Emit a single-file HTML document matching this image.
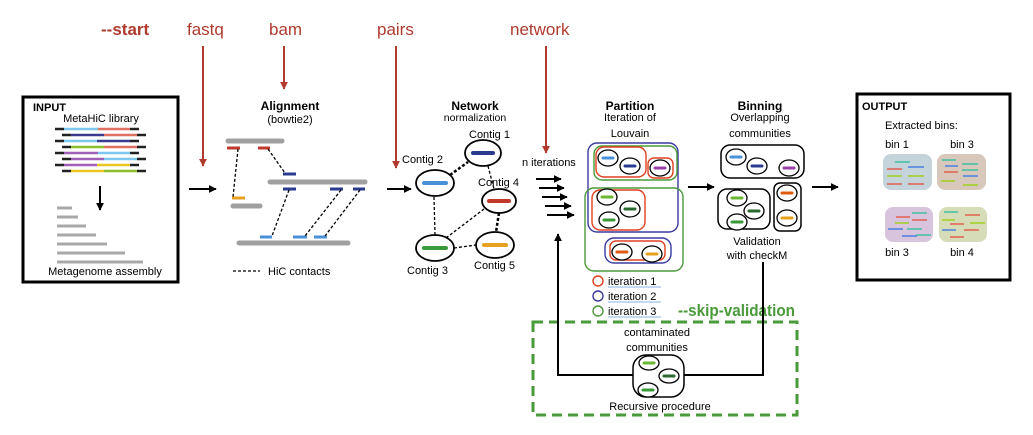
<!DOCTYPE html>
<html><head><meta charset="utf-8"><style>
html,body{margin:0;padding:0;background:#fff;}
svg{display:block;font-family:"Liberation Sans",sans-serif;}
</style></head><body>
<svg width="1033" height="435" viewBox="0 0 1033 435" xmlns="http://www.w3.org/2000/svg">
<defs>
<marker id="ab" viewBox="0 0 10 10" refX="9" refY="5" markerWidth="4" markerHeight="4" orient="auto"><path d="M0,0 L10,5 L0,10 z" fill="#000"/></marker>
<marker id="ar" viewBox="0 0 10 10" refX="9" refY="5" markerWidth="4" markerHeight="4" orient="auto"><path d="M0,0 L10,5 L0,10 z" fill="#b03a2e"/></marker>
</defs>

<g fill="#b03a2e" font-size="17">
<text x="101" y="35" font-weight="bold">--start</text>
<text x="187" y="35">fastq</text>
<text x="269" y="35">bam</text>
<text x="377" y="35">pairs</text>
<text x="510" y="35">network</text>
</g>
<g stroke="#b03a2e" stroke-width="2" fill="none">
<line x1="203" y1="46" x2="203" y2="166" marker-end="url(#ar)"/>
<line x1="284" y1="46" x2="284" y2="89" marker-end="url(#ar)"/>
<line x1="396" y1="46" x2="396" y2="168" marker-end="url(#ar)"/>
<line x1="546" y1="46" x2="546" y2="153" marker-end="url(#ar)"/>
</g>

<rect x="23" y="97" width="155" height="185" fill="none" stroke="#000" stroke-width="3"/>
<text x="33" y="111" font-size="11" font-weight="bold">INPUT</text>
<text x="101" y="122" font-size="11" text-anchor="middle">MetaHiC library</text>
<g stroke-width="2.5">
<line x1="55" y1="129" x2="64" y2="129" stroke="#222"/><line x1="64" y1="129" x2="98" y2="129" stroke="#7ec8ee"/><line x1="98" y1="129" x2="130" y2="129" stroke="#e07060"/><line x1="130" y1="129" x2="139" y2="129" stroke="#222"/>
<line x1="62" y1="135" x2="71" y2="135" stroke="#222"/><line x1="71" y1="135" x2="104" y2="135" stroke="#3a3a90"/><line x1="104" y1="135" x2="137" y2="135" stroke="#e07060"/><line x1="137" y1="135" x2="146" y2="135" stroke="#222"/>
<line x1="55" y1="141" x2="64" y2="141" stroke="#222"/><line x1="64" y1="141" x2="97" y2="141" stroke="#7ec8ee"/><line x1="97" y1="141" x2="130" y2="141" stroke="#3a3a90"/><line x1="130" y1="141" x2="139" y2="141" stroke="#222"/>
<line x1="62" y1="147" x2="71" y2="147" stroke="#222"/><line x1="71" y1="147" x2="104" y2="147" stroke="#8cbf2a"/><line x1="104" y1="147" x2="137" y2="147" stroke="#e07060"/><line x1="137" y1="147" x2="146" y2="147" stroke="#222"/>
<line x1="55" y1="153" x2="64" y2="153" stroke="#222"/><line x1="64" y1="153" x2="98" y2="153" stroke="#a060b8"/><line x1="98" y1="153" x2="130" y2="153" stroke="#7ec8ee"/><line x1="130" y1="153" x2="139" y2="153" stroke="#222"/>
<line x1="62" y1="159" x2="71" y2="159" stroke="#222"/><line x1="71" y1="159" x2="104" y2="159" stroke="#a060b8"/><line x1="104" y1="159" x2="137" y2="159" stroke="#7ec8ee"/><line x1="137" y1="159" x2="146" y2="159" stroke="#222"/>
<line x1="55" y1="165" x2="64" y2="165" stroke="#222"/><line x1="64" y1="165" x2="97" y2="165" stroke="#a060b8"/><line x1="97" y1="165" x2="130" y2="165" stroke="#e8c820"/><line x1="130" y1="165" x2="139" y2="165" stroke="#222"/>
<line x1="62" y1="171" x2="71" y2="171" stroke="#222"/><line x1="71" y1="171" x2="104" y2="171" stroke="#e8c820"/><line x1="104" y1="171" x2="137" y2="171" stroke="#8cbf2a"/><line x1="137" y1="171" x2="146" y2="171" stroke="#222"/>
</g>
<line x1="100" y1="186" x2="100" y2="210" stroke="#000" stroke-width="2" marker-end="url(#ab)"/>
<g stroke="#a8a8a8" stroke-width="3">
<line x1="57" y1="208" x2="72" y2="208"/><line x1="57" y1="217" x2="78" y2="217"/><line x1="57" y1="226" x2="86" y2="226"/><line x1="57" y1="235" x2="96" y2="235"/><line x1="57" y1="244" x2="107" y2="244"/><line x1="57" y1="253" x2="125" y2="253"/><line x1="57" y1="262" x2="143" y2="262"/>
</g>
<text x="105" y="275" font-size="11" text-anchor="middle">Metagenome assembly</text>

<line x1="189" y1="189" x2="216" y2="189" stroke="#000" stroke-width="2" marker-end="url(#ab)"/>

<text x="290" y="110" font-size="12" font-weight="bold" text-anchor="middle">Alignment</text>
<text x="290" y="123" font-size="11" text-anchor="middle">(bowtie2)</text>
<g stroke="#a0a0a0" stroke-width="5" stroke-linecap="round">
<line x1="228" y1="141" x2="282" y2="141"/><line x1="270" y1="182" x2="365" y2="182"/><line x1="233" y1="206" x2="260" y2="206"/><line x1="239" y1="243" x2="348" y2="243"/>
</g>
<g stroke-width="3">
<line x1="227" y1="148" x2="240" y2="148" stroke="#c0392b"/><line x1="258" y1="148" x2="270" y2="148" stroke="#c0392b"/>
<line x1="283" y1="174" x2="296" y2="174" stroke="#2a3a90"/>
<line x1="283" y1="189" x2="296" y2="189" stroke="#2a3a90"/><line x1="330" y1="189" x2="343" y2="189" stroke="#2a3a90"/><line x1="353" y1="189" x2="365" y2="189" stroke="#2a3a90"/>
<line x1="232" y1="198" x2="245" y2="198" stroke="#e8a020"/>
<line x1="260" y1="237" x2="272" y2="237" stroke="#4a90d8"/><line x1="293" y1="237" x2="307" y2="237" stroke="#4a90d8"/><line x1="314" y1="237" x2="327" y2="237" stroke="#4a90d8"/>
</g>
<g stroke="#000" stroke-width="1.3" stroke-dasharray="3,2">
<line x1="238" y1="149" x2="233" y2="197"/><line x1="268" y1="149" x2="285" y2="173"/><line x1="289" y1="190" x2="272" y2="236"/><line x1="341" y1="190" x2="305" y2="236"/><line x1="360" y1="190" x2="325" y2="236"/>
<line x1="233" y1="271" x2="260" y2="271"/>
</g>
<text x="268" y="275" font-size="11">HiC contacts</text>

<line x1="387" y1="189" x2="411" y2="189" stroke="#000" stroke-width="2" marker-end="url(#ab)"/>

<text x="475" y="110" font-size="12" font-weight="bold" text-anchor="middle">Network</text>
<text x="475" y="121" font-size="10.5" text-anchor="middle">normalization</text>
<g stroke="#000" fill="none">
<line x1="450" y1="175" x2="468" y2="162" stroke-width="2.5" stroke-dasharray="3,2"/>
<line x1="488" y1="166" x2="494" y2="189" stroke-width="1.3" stroke-dasharray="3,2"/>
<line x1="434" y1="197" x2="435" y2="235" stroke-width="1.3" stroke-dasharray="3,2"/>
<line x1="446" y1="238" x2="484" y2="209" stroke-width="1.3" stroke-dasharray="3,2"/>
<line x1="454" y1="248" x2="476" y2="245" stroke-width="1.3" stroke-dasharray="3,2"/>
<line x1="499" y1="213" x2="496" y2="232" stroke-width="2.5" stroke-dasharray="3,2"/>
</g>
<g fill="#fff" stroke="#000" stroke-width="1.8">
<ellipse cx="483" cy="153" rx="18" ry="13"/><ellipse cx="435" cy="183" rx="19" ry="13"/><ellipse cx="499" cy="201" rx="17" ry="12"/><ellipse cx="435" cy="248" rx="19" ry="13"/><ellipse cx="495" cy="245" rx="19" ry="13"/>
</g>
<g stroke-width="4" stroke-linecap="round">
<line x1="473" y1="153" x2="493" y2="153" stroke="#2a3a90"/><line x1="424" y1="183" x2="446" y2="183" stroke="#4a90d8"/><line x1="489" y1="201" x2="509" y2="201" stroke="#c0392b"/><line x1="424" y1="248" x2="446" y2="248" stroke="#3a9a3a"/><line x1="484" y1="245" x2="506" y2="245" stroke="#e8a020"/>
</g>
<g font-size="11">
<text x="469" y="138">Contig 1</text><text x="402" y="163">Contig 2</text><text x="478" y="186">Contig 4</text><text x="407" y="274">Contig 3</text><text x="474" y="269">Contig 5</text>
</g>

<text x="522" y="166" font-size="11">n iterations</text>
<g stroke="#000" stroke-width="2">
<line x1="536" y1="179" x2="561" y2="179" marker-end="url(#ab)"/>
<line x1="539" y1="188" x2="564" y2="188" marker-end="url(#ab)"/>
<line x1="542" y1="197" x2="567" y2="197" marker-end="url(#ab)"/>
<line x1="545" y1="206" x2="571" y2="206" marker-end="url(#ab)"/>
<line x1="547" y1="215" x2="574" y2="215" marker-end="url(#ab)"/>
</g>

<text x="630" y="110" font-size="12" font-weight="bold" text-anchor="middle">Partition</text>
<text x="630" y="121" font-size="11" text-anchor="middle">Iteration of</text>
<text x="630" y="137" font-size="11" text-anchor="middle">Louvain</text>
<g fill="none" stroke-width="1.4">
<rect x="588" y="143" width="90" height="89" rx="9" stroke="#3a3aa0"/>
<rect x="594" y="146" width="83" height="34" rx="8" stroke="#4a9a3a"/>
<rect x="596" y="147" width="50" height="30" rx="8" stroke="#e04020"/>
<rect x="648" y="158" width="25" height="20" rx="6" stroke="#e04020"/>
<rect x="585" y="188" width="98" height="83" rx="9" stroke="#4a9a3a"/>
<rect x="592" y="190" width="53" height="40" rx="8" stroke="#e04020"/>
<rect x="605" y="238" width="66" height="25" rx="9" stroke="#3a3aa0"/>
<rect x="610" y="241" width="55" height="19" rx="6" stroke="#e04020"/>
</g>
<g fill="#fff" stroke="#000" stroke-width="1.3">
<ellipse cx="608" cy="158" rx="10" ry="8"/><ellipse cx="630" cy="166" rx="10" ry="8"/><ellipse cx="660" cy="168" rx="10" ry="8"/>
<ellipse cx="607" cy="197" rx="10" ry="8"/><ellipse cx="630" cy="209" rx="10" ry="8"/><ellipse cx="609" cy="220" rx="10" ry="8"/>
<ellipse cx="622" cy="252" rx="10" ry="8"/><ellipse cx="652" cy="254" rx="10" ry="8"/>
</g>
<g stroke-width="3" stroke-linecap="round">
<line x1="603" y1="158" x2="613" y2="158" stroke="#4a90d8"/><line x1="625" y1="166" x2="635" y2="166" stroke="#2a3a90"/><line x1="655" y1="168" x2="665" y2="168" stroke="#9a40a8"/>
<line x1="602" y1="197" x2="612" y2="197" stroke="#6ab830"/><line x1="625" y1="209" x2="635" y2="209" stroke="#2a6a30"/><line x1="604" y1="220" x2="614" y2="220" stroke="#3a9a3a"/>
<line x1="617" y1="252" x2="627" y2="252" stroke="#e05a10"/><line x1="647" y1="254" x2="657" y2="254" stroke="#e8a020"/>
</g>
<g fill="none" stroke-width="1.4">
<circle cx="598" cy="281" r="5" stroke="#e04020"/><circle cx="598" cy="296" r="5" stroke="#3a3aa0"/><circle cx="598" cy="311" r="5" stroke="#4a9a3a"/>
</g>
<g font-size="11">
<text x="608" y="285">iteration 1</text><text x="608" y="300">iteration 2</text><text x="608" y="315">iteration 3</text>
</g>
<g stroke="#8ab0e0" stroke-width="1"><line x1="608" y1="287" x2="661" y2="287"/><line x1="608" y1="302" x2="661" y2="302"/><line x1="608" y1="317" x2="661" y2="317"/></g>
<text x="678" y="316" font-size="17" font-weight="bold" fill="#4a9a3a" textLength="117" lengthAdjust="spacingAndGlyphs">--skip-validation</text>

<line x1="688" y1="187" x2="714" y2="187" stroke="#000" stroke-width="2" marker-end="url(#ab)"/>

<text x="760" y="110" font-size="12" font-weight="bold" text-anchor="middle">Binning</text>
<text x="760" y="121" font-size="11" text-anchor="middle">Overlapping</text>
<text x="760" y="137" font-size="11" text-anchor="middle">communities</text>
<g fill="none" stroke="#000" stroke-width="1.5">
<rect x="721" y="145" width="83" height="33" rx="9"/>
<rect x="718" y="189" width="52" height="40" rx="9"/>
<rect x="774" y="183" width="27" height="48" rx="6"/>
</g>
<g fill="#fff" stroke="#000" stroke-width="1.3">
<ellipse cx="736" cy="157" rx="10" ry="8"/><ellipse cx="757" cy="166" rx="10" ry="8"/><ellipse cx="789" cy="168" rx="10" ry="8"/>
<ellipse cx="737" cy="198" rx="10" ry="8"/><ellipse cx="754" cy="211" rx="10" ry="8"/><ellipse cx="737" cy="222" rx="10" ry="8"/>
<ellipse cx="787" cy="193" rx="10" ry="8"/><ellipse cx="787" cy="218" rx="10" ry="8"/>
</g>
<g stroke-width="3" stroke-linecap="round">
<line x1="731" y1="157" x2="741" y2="157" stroke="#4a90d8"/><line x1="752" y1="166" x2="762" y2="166" stroke="#2a3a90"/><line x1="784" y1="168" x2="794" y2="168" stroke="#9a40a8"/>
<line x1="732" y1="198" x2="742" y2="198" stroke="#6ab830"/><line x1="749" y1="211" x2="759" y2="211" stroke="#2a6a30"/><line x1="732" y1="222" x2="742" y2="222" stroke="#3a9a3a"/>
<line x1="782" y1="193" x2="792" y2="193" stroke="#e05a10"/><line x1="782" y1="218" x2="792" y2="218" stroke="#e8a020"/>
</g>
<text x="757" y="245" font-size="11" text-anchor="middle">Validation</text>
<text x="757" y="259" font-size="11" text-anchor="middle">with checkM</text>

<line x1="812" y1="187" x2="838" y2="187" stroke="#000" stroke-width="2" marker-end="url(#ab)"/>

<rect x="857" y="94" width="153" height="186" fill="none" stroke="#000" stroke-width="3"/>
<text x="862" y="110" font-size="11" font-weight="bold">OUTPUT</text>
<text x="885" y="129" font-size="11">Extracted bins:</text>
<g font-size="11" text-anchor="middle">
<text x="897" y="148">bin 1</text><text x="962" y="148">bin 3</text><text x="897" y="256">bin 3</text><text x="962" y="256">bin 4</text>
</g>
<rect x="883" y="154" width="49" height="36" rx="8" fill="#c4d4da"/>
<rect x="937" y="154" width="49" height="36" rx="8" fill="#d8c8bc"/>
<rect x="885" y="207" width="48" height="35" rx="8" fill="#d8c4dc"/>
<rect x="939" y="207" width="48" height="35" rx="8" fill="#d6dcb8"/>
<g stroke-width="1.5">
<line x1="895" y1="162" x2="910" y2="162" stroke="#40c0a0"/><line x1="887" y1="169" x2="902" y2="169" stroke="#e06050"/><line x1="908" y1="167" x2="924" y2="167" stroke="#4a80e0"/><line x1="887" y1="176" x2="902" y2="176" stroke="#a0d020"/><line x1="908" y1="176" x2="924" y2="176" stroke="#a0d020"/><line x1="887" y1="184" x2="902" y2="184" stroke="#e06050"/><line x1="908" y1="184" x2="924" y2="184" stroke="#e06050"/>
<line x1="942" y1="160" x2="956" y2="160" stroke="#40c0a0"/><line x1="962" y1="164" x2="978" y2="164" stroke="#40c0a0"/><line x1="945" y1="166" x2="958" y2="166" stroke="#4a80e0"/><line x1="962" y1="170" x2="978" y2="170" stroke="#40c0a0"/><line x1="944" y1="172" x2="958" y2="172" stroke="#e06050"/><line x1="963" y1="176" x2="978" y2="176" stroke="#4a80e0"/><line x1="941" y1="181" x2="955" y2="181" stroke="#a0d020"/><line x1="963" y1="185" x2="978" y2="185" stroke="#a0d020"/>
<line x1="912" y1="213" x2="927" y2="213" stroke="#40c0a0"/><line x1="896" y1="217" x2="910" y2="217" stroke="#e06050"/><line x1="912" y1="220" x2="927" y2="220" stroke="#e06050"/><line x1="895" y1="223" x2="909" y2="223" stroke="#a0d020"/><line x1="888" y1="229" x2="903" y2="229" stroke="#4a80e0"/><line x1="907" y1="229" x2="922" y2="229" stroke="#40c0a0"/><line x1="902" y1="236" x2="917" y2="236" stroke="#4a80e0"/><line x1="916" y1="235" x2="931" y2="235" stroke="#40c0a0"/>
<line x1="944" y1="212" x2="958" y2="212" stroke="#40c0a0"/><line x1="965" y1="215" x2="980" y2="215" stroke="#e06050"/><line x1="942" y1="220" x2="955" y2="220" stroke="#a0d020"/><line x1="950" y1="224" x2="964" y2="224" stroke="#e06050"/><line x1="970" y1="223" x2="985" y2="223" stroke="#a0d020"/><line x1="942" y1="230" x2="956" y2="230" stroke="#4a80e0"/><line x1="964" y1="230" x2="979" y2="230" stroke="#e06050"/><line x1="950" y1="237" x2="964" y2="237" stroke="#e06050"/>
</g>

<rect x="533" y="322" width="264" height="93" fill="none" stroke="#4a9a3a" stroke-width="3" stroke-dasharray="10,6"/>
<g stroke="#000" stroke-width="2" fill="none">
<polyline points="763,262 763,375 684,375"/>
<polyline points="633,375 558,375 558,234" marker-end="url(#ab)"/>
</g>
<text x="657" y="336" font-size="11" text-anchor="middle">contaminated</text>
<text x="657" y="351" font-size="11" text-anchor="middle">communities</text>
<rect x="633" y="355" width="51" height="42" rx="13" fill="#fff" stroke="#000" stroke-width="1.5"/>
<g fill="#fff" stroke="#000" stroke-width="1.3">
<ellipse cx="649" cy="363" rx="10" ry="7"/><ellipse cx="669" cy="376" rx="10" ry="7"/><ellipse cx="648" cy="390" rx="10" ry="7"/>
</g>
<g stroke-width="3" stroke-linecap="round">
<line x1="644" y1="363" x2="654" y2="363" stroke="#6ab830"/><line x1="664" y1="376" x2="674" y2="376" stroke="#2a6a30"/><line x1="643" y1="390" x2="653" y2="390" stroke="#3a9a3a"/>
</g>
<text x="660" y="410" font-size="11" text-anchor="middle">Recursive procedure</text>
</svg>
</body></html>
